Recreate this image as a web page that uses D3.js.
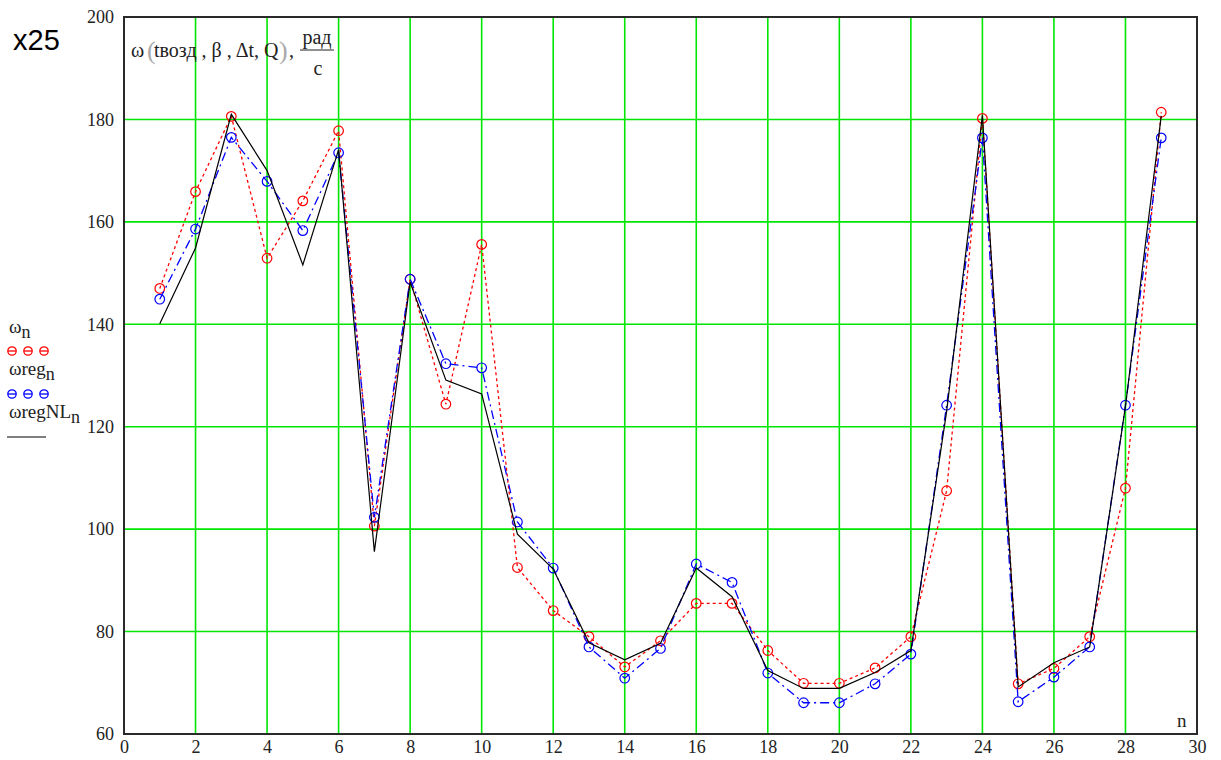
<!DOCTYPE html>
<html>
<head>
<meta charset="utf-8">
<script src="https://cdn.jsdelivr.net/npm/d3@7/dist/d3.min.js"></script>
<style>
  html, body { margin: 0; padding: 0; background: #fff; }
  svg { display: block; }
</style>
</head>
<body>
<svg id="chart" width="1221" height="760"></svg>
<script>
// Sample index n
const nValues = d3.range(1, 30);

// ω_n — measured angular speed, rad/s
const omega = [147.0, 165.9, 180.6, 152.9, 164.1, 177.8, 100.6, 148.8, 124.4, 155.6,
               92.5, 84.1, 79.0, 73.1, 78.2, 85.5, 85.5, 76.3, 69.9, 69.9,
               72.9, 79.0, 107.5, 180.2, 69.8, 72.8, 79.0, 108.0, 181.4];

// ωreg_n — linear regression estimate
const omegaReg = [144.9, 158.6, 176.5, 167.9, 158.3, 173.5, 102.3, 148.8, 132.3, 131.5,
                  101.4, 92.4, 77.0, 70.9, 76.7, 93.2, 89.6, 71.9, 66.1, 66.1,
                  69.8, 75.6, 124.2, 176.4, 66.3, 71.1, 77.0, 124.2, 176.4];

// ωregNL_n — nonlinear regression estimate
const omegaRegNL = [140.1, 154.9, 181.0, 170.0, 151.6, 174.1, 95.6, 148.2, 129.1, 126.4,
                    99.0, 92.2, 77.8, 74.5, 77.7, 92.4, 86.8, 72.4, 68.9, 68.9,
                    72.0, 76.3, 123.0, 180.8, 69.2, 73.9, 77.0, 124.0, 180.7];

// Axis ticks
const xTicks = d3.range(0, 31, 2);
const yTicks = d3.range(60, 201, 20);

const svg = d3.select("#chart");
const plotLeft = 124, plotRight = 1197, plotTop = 17, plotBottom = 734;
const serif = "'Liberation Serif', 'DejaVu Serif', serif";
const ink = "#222";

const x = d3.scaleLinear().domain([0, 30]).range([plotLeft, plotRight]);
const y = d3.scaleLinear().domain([60, 200]).range([plotBottom, plotTop]);

// Grid
const grid = svg.append("g");
grid.selectAll("line.gx").data(xTicks.filter(v => v > 0 && v < 30)).join("line")
  .attr("x1", d => x(d)).attr("x2", d => x(d))
  .attr("y1", plotTop).attr("y2", plotBottom)
  .attr("stroke", "#00e600").attr("stroke-width", 1.6);
grid.selectAll("line.gy").data(yTicks.filter(v => v > 60 && v < 200)).join("line")
  .attr("x1", plotLeft).attr("x2", plotRight)
  .attr("y1", d => y(d)).attr("y2", d => y(d))
  .attr("stroke", "#00e600").attr("stroke-width", 1.6);

// Axes (labels only; the frame draws the edges)
function styleTicks(g) {
  g.select(".domain").remove();
  g.selectAll(".tick text")
    .attr("font-family", serif).attr("font-size", 18).attr("fill", ink);
}
svg.append("g").attr("transform", `translate(0,${plotBottom})`)
  .call(d3.axisBottom(x).tickValues(xTicks).tickSize(0).tickPadding(6).tickFormat(d3.format("d")))
  .call(styleTicks);

svg.append("g").attr("transform", `translate(${plotLeft},0)`)
  .call(d3.axisLeft(y).tickValues(yTicks).tickSize(0).tickPadding(10).tickFormat(d3.format("d")))
  .call(styleTicks);

// Frame
svg.append("rect")
  .attr("x", plotLeft).attr("y", plotTop)
  .attr("width", plotRight - plotLeft).attr("height", plotBottom - plotTop)
  .attr("fill", "none").attr("stroke", "#2a2a2a").attr("stroke-width", 2);

// Series
const series = [
  { values: omega, color: "#ff0000", dash: "3,3", width: 1.3, markers: true },
  { values: omegaReg, color: "#0000ff", dash: "9,4,2,4", width: 1.3, markers: true },
  { values: omegaRegNL, color: "#000000", dash: null, width: 1.2, markers: false }
];

const line = d3.line().x((d, i) => x(nValues[i])).y(d => y(d));

series.forEach(s => {
  svg.append("path")
    .datum(s.values)
    .attr("d", line)
    .attr("fill", "none")
    .attr("stroke", s.color)
    .attr("stroke-width", s.width)
    .attr("stroke-dasharray", s.dash);
  if (s.markers) {
    svg.append("g").selectAll("circle").data(s.values).join("circle")
      .attr("cx", (d, i) => x(nValues[i]))
      .attr("cy", d => y(d))
      .attr("r", 4.8)
      .attr("fill", "none")
      .attr("stroke", s.color)
      .attr("stroke-width", 1.2);
  }
});

// Function label inside the plot
function txt(xPos, yPos, str, size, opts = {}) {
  return svg.append("text").attr("x", xPos).attr("y", yPos)
    .attr("font-family", serif).attr("font-size", size)
    .attr("fill", opts.fill || ink)
    .attr("text-anchor", opts.anchor || "start")
    .text(str);
}
txt(131, 57, "ω", 20);
txt(147, 59, "(", 26, { fill: "#aaa" });
txt(154, 57, "tвозд , β , Δt, Q", 20);
txt(279, 59, ")", 26, { fill: "#aaa" });
txt(289, 57, ",", 20);
txt(317, 44, "рад", 20, { anchor: "middle" });
svg.append("line").attr("x1", 300).attr("x2", 334).attr("y1", 50).attr("y2", 50)
  .attr("stroke", ink).attr("stroke-width", 1.2);
txt(318, 75, "c", 20, { anchor: "middle" });

// Axis name
txt(1177, 727, "n", 19);

// Scale note
svg.append("text").attr("x", 13).attr("y", 50)
  .attr("font-family", "'Liberation Sans', Arial, sans-serif").attr("font-size", 29)
  .attr("fill", "#000").text("x25");

// Legend
const legend = svg.append("g");
function legendLabel(yPos, base, sub) {
  const t = legend.append("text").attr("x", 9).attr("y", yPos)
    .attr("font-family", serif).attr("font-size", 19).attr("fill", ink);
  t.append("tspan").text(base);
  t.append("tspan").attr("dy", 5).attr("font-size", 18).text(sub);
}
function legendMarkers(yPos, color) {
  [12, 28, 44].forEach(cx => {
    legend.append("line").attr("x1", cx - 4).attr("x2", cx + 4).attr("y1", yPos).attr("y2", yPos)
      .attr("stroke", color).attr("stroke-width", 1.3);
    legend.append("circle")
      .attr("cx", cx).attr("cy", yPos).attr("r", 4.2)
      .attr("fill", "none").attr("stroke", color).attr("stroke-width", 1.3);
  });
}
legendLabel(333, "ω", "n");
legendMarkers(351, "#ff0000");
legendLabel(375, "ωreg", "n");
legendMarkers(394, "#0000ff");
legendLabel(418, "ωregNL", "n");
legend.append("line").attr("x1", 7).attr("x2", 46).attr("y1", 437).attr("y2", 437)
  .attr("stroke", "#000").attr("stroke-width", 1.2);
</script>
</body>
</html>
